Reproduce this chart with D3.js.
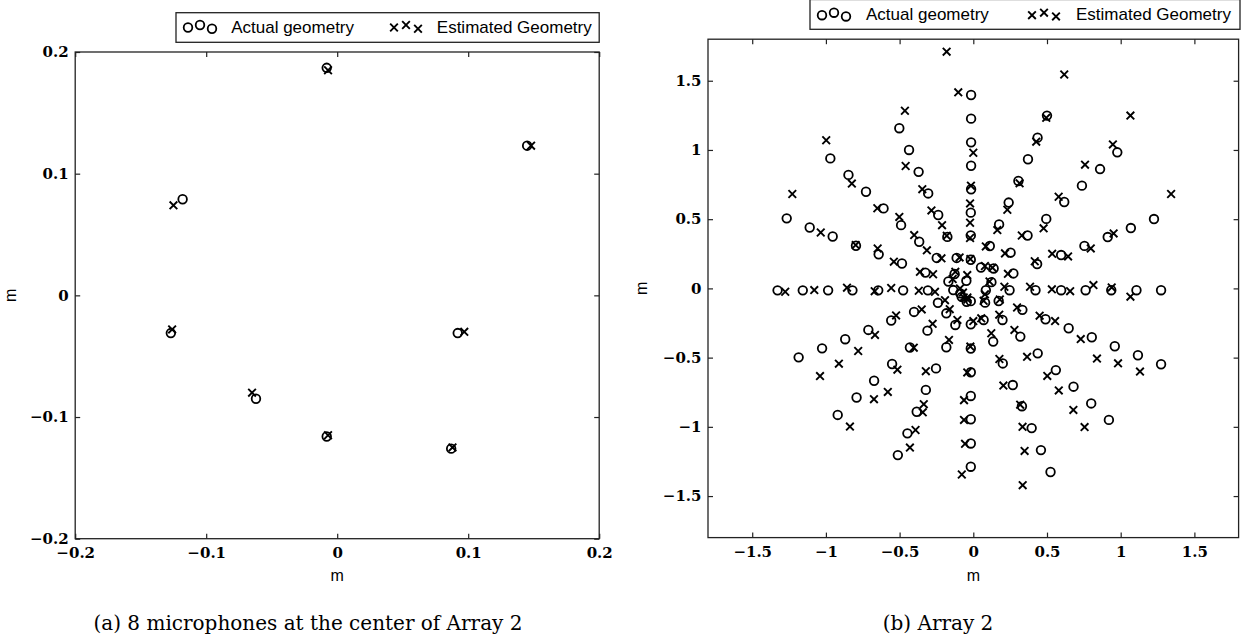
<!DOCTYPE html>
<html>
<head>
<meta charset="utf-8">
<script src="https://cdn.jsdelivr.net/npm/d3@7"></script>
<style>
body{margin:0;background:#fff;}
.tick-label{font-family:"DejaVu Serif",serif;font-weight:bold;font-size:15px;}
.axis-name{font-family:"Liberation Sans",Arial,sans-serif;font-size:16px;}
.legend-text{font-family:"Liberation Sans",Arial,sans-serif;font-size:17px;}
.caption{font-family:"DejaVu Serif",serif;font-size:20px;}
</style>
</head>
<body>
<svg id="figure" width="1245" height="640"></svg>
<script>
const FIG_W = 1245;
const FIG_H = 640;
const MARK_R = 4.3;
const CROSS_SIZE = 40;

// (a) the 8 microphones at the centre of the array
const centerTicks = [-0.2, -0.1, 0, 0.1, 0.2];
const centerActual = [[-0.008,0.187],[0.145,0.123],[-0.118,0.079],[-0.127,-0.031],[0.092,-0.031],[-0.062,-0.085],[-0.008,-0.116],[0.087,-0.126]];
const centerEstimated = [[-0.007,0.185],[0.148,0.123],[-0.125,0.074],[-0.126,-0.028],[0.097,-0.030],[-0.065,-0.080],[-0.007,-0.115],[0.088,-0.125]];

// (b) whole of Array 2, one line per arm (8 mics each)
const array2Ticks = [-1.5, -1, -0.5, 0, 0.5, 1, 1.5];
const array2Actual = [
  [-0.015,1.397],[-0.015,1.226],[-0.015,1.055],[-0.015,0.886],[-0.015,0.716],[-0.017,0.547],[-0.017,0.383],[-0.017,0.207],
  [-0.502,1.157],[-0.436,1.0],[-0.371,0.842],[-0.306,0.686],[-0.238,0.530],[-0.176,0.372],[-0.113,0.220],[-0.047,0.055],
  [-0.970,0.939],[-0.847,0.820],[-0.728,0.698],[-0.609,0.578],[-0.490,0.457],[-0.367,0.337],[-0.248,0.220],[-0.127,0.104],
  [-1.266,0.506],[-1.110,0.440],[-0.954,0.375],[-0.796,0.308],[-0.642,0.246],[-0.484,0.180],[-0.325,0.114],[-0.169,0.050],
  [-1.328,-0.014],[-1.157,-0.014],[-0.985,-0.014],[-0.820,-0.014],[-0.645,-0.014],[-0.476,-0.014],[-0.308,-0.014],[-0.136,-0.012],
  [-1.185,-0.498],[-1.026,-0.433],[-0.869,-0.367],[-0.712,-0.300],[-0.557,-0.232],[-0.402,-0.170],[-0.240,-0.104],[-0.088,-0.036],
  [-0.920,-0.914],[-0.792,-0.788],[-0.673,-0.667],[-0.551,-0.546],[-0.430,-0.427],[-0.311,-0.305],[-0.183,-0.180],[-0.079,-0.061],
  [-0.512,-1.204],[-0.447,-1.047],[-0.384,-0.891],[-0.322,-0.733],[-0.253,-0.578],[-0.183,-0.425],[-0.122,-0.264],[-0.045,-0.097],
  [-0.017,-0.092],[-0.017,-0.259],[-0.017,-0.434],[-0.017,-0.606],[-0.017,-0.777],[-0.017,-0.945],[-0.017,-1.120],[-0.017,-1.288],
  [0.524,-1.326],[0.459,-1.168],[0.396,-1.009],[0.330,-0.851],[0.268,-0.698],[0.200,-0.542],[0.135,-0.384],[0.070,-0.228],
  [0.920,-0.950],[0.800,-0.831],[0.680,-0.710],[0.560,-0.590],[0.437,-0.469],[0.319,-0.348],[0.198,-0.228],[0.080,-0.103],
  [1.274,-0.548],[1.117,-0.483],[0.960,-0.418],[0.804,-0.353],[0.647,-0.288],[0.490,-0.223],[0.333,-0.155],[0.172,-0.091],
  [1.274,-0.013],[1.107,-0.013],[0.936,-0.013],[0.762,-0.013],[0.596,-0.013],[0.422,-0.013],[0.246,-0.013],[0.085,-0.013],
  [1.226,0.501],[1.069,0.436],[0.912,0.371],[0.754,0.307],[0.596,0.241],[0.433,0.176],[0.272,0.108],[0.123,0.045],
  [0.977,0.983],[0.860,0.862],[0.737,0.742],[0.617,0.624],[0.495,0.502],[0.368,0.382],[0.253,0.258],[0.138,0.144],
  [0.500,1.248],[0.436,1.089],[0.371,0.933],[0.306,0.776],[0.240,0.620],[0.175,0.462],[0.112,0.306],[0.052,0.151]
];
const array2Estimated = [
  [-0.181,1.710],[-0.102,1.416],[0.000,0.980],[-0.016,0.742],[-0.022,0.614],[-0.022,0.474],[-0.022,0.364],[-0.020,0.212],
  [-0.464,1.283],[-0.459,0.884],[-0.346,0.717],[-0.284,0.563],[-0.212,0.457],[-0.180,0.380],[-0.093,0.224],[-0.041,0.096],
  [-0.998,1.070],[-0.824,0.757],[-0.651,0.579],[-0.502,0.516],[-0.401,0.385],[-0.315,0.275],[-0.216,0.217],[-0.122,0.120],
  [-1.228,0.682],[-1.035,0.404],[-0.798,0.313],[-0.649,0.288],[-0.539,0.193],[-0.362,0.120],[-0.273,0.102],[-0.140,0.068],
  [-1.276,-0.024],[-1.079,-0.012],[-0.857,0.005],[-0.669,-0.020],[-0.557,0.003],[-0.370,-0.017],[-0.260,-0.025],[-0.090,0.000],
  [-1.040,-0.633],[-0.912,-0.544],[-0.781,-0.452],[-0.667,-0.336],[-0.524,-0.195],[-0.350,-0.152],[-0.192,-0.085],[-0.070,-0.030],
  [-0.837,-0.998],[-0.674,-0.800],[-0.580,-0.748],[-0.515,-0.587],[-0.404,-0.428],[-0.276,-0.256],[-0.160,-0.150],[-0.065,-0.065],
  [-0.430,-1.150],[-0.392,-1.023],[-0.343,-0.895],[-0.336,-0.836],[-0.322,-0.598],[-0.165,-0.372],[-0.108,-0.228],[-0.040,-0.080],
  [-0.040,-0.065],[0.000,-0.236],[-0.020,-0.420],[-0.041,-0.607],[-0.063,-0.807],[-0.063,-0.950],[-0.056,-1.123],[-0.078,-1.344],
  [0.335,-1.421],[0.348,-1.174],[0.334,-1.000],[0.318,-0.840],[0.204,-0.702],[0.177,-0.510],[0.122,-0.324],[0.054,-0.216],
  [0.755,-1.002],[0.679,-0.878],[0.580,-0.737],[0.502,-0.632],[0.365,-0.494],[0.279,-0.300],[0.176,-0.190],[0.070,-0.090],
  [1.131,-0.601],[0.982,-0.541],[0.839,-0.507],[0.729,-0.366],[0.555,-0.236],[0.450,-0.197],[0.297,-0.138],[0.180,-0.080],
  [1.066,-0.060],[0.939,0.007],[0.815,0.024],[0.657,-0.020],[0.533,-0.007],[0.385,0.012],[0.211,0.012],[0.079,-0.043],
  [1.342,0.682],[0.952,0.397],[0.797,0.289],[0.643,0.231],[0.535,0.250],[0.417,0.196],[0.235,0.105],[0.110,0.050],
  [1.066,1.248],[0.947,1.040],[0.758,0.894],[0.579,0.662],[0.477,0.434],[0.329,0.382],[0.215,0.253],[0.130,0.150],
  [0.617,1.545],[0.495,1.232],[0.427,1.060],[0.314,0.759],[0.231,0.568],[0.163,0.421],[0.085,0.303],[0.079,0.161]
];

const legendLabels = ["Actual geometry", "Estimated Geometry"];
const legendOffsets = [0.375, 0.5, 0.3125];   // the 3 staggered legend markers
const captions = ["(a) 8 microphones at the center of Array 2", "(b) Array 2"];
const axisName = "m";

const panels = [
  {actual: centerActual, est: centerEstimated, ticks: centerTicks, domain: [-0.2, 0.2],
   left: 75.2, right: 599.2, top: 52, bottom: 538.7,
   legend: {x: 176, y: 12.7, w: 423.2, h: 29.6, mark: 188, text1: 231.2, cross: 394, text2: 436.8, cy: 25, base: 32.7},
   ylabelX: 16, caption: captions[0], captionX: 308},
  {actual: array2Actual, est: array2Estimated, ticks: array2Ticks, domain: [-1.8, 1.8],
   left: 708, right: 1238.6, top: 39.2, bottom: 537.6,
   legend: {x: 810, y: -0.5, w: 430, h: 29.8, mark: 822, text1: 866, cross: 1032, text2: 1076, cy: 12.7, base: 20},
   ylabelX: 647, caption: captions[1], captionX: 938}
];

const svg = d3.select("#figure");
svg.append("rect").attr("width", FIG_W).attr("height", FIG_H).attr("fill", "#fff");

const fmt = d3.format("~g");
const crossPath = d3.symbol(d3.symbolTimes, CROSS_SIZE)();

function drawPanel(p){
    let x = d3.scaleLinear().domain(p.domain).range([p.left, p.right]);
    let y = d3.scaleLinear().domain(p.domain).range([p.bottom, p.top]);
    let g = svg.append("g");

    //ticks pointing inwards on all four sides
    let bottomAxis = g.append("g").attr("transform", "translate(0," + p.bottom + ")")
        .call(d3.axisBottom(x).tickValues(p.ticks).tickFormat(fmt).tickSizeInner(-5).tickSizeOuter(0).tickPadding(9));
    let leftAxis = g.append("g").attr("transform", "translate(" + p.left + ",0)")
        .call(d3.axisLeft(y).tickValues(p.ticks).tickFormat(fmt).tickSizeInner(-5).tickSizeOuter(0).tickPadding(6.5));
    g.append("g").attr("transform", "translate(0," + p.top + ")")
        .call(d3.axisTop(x).tickValues(p.ticks).tickFormat("").tickSizeInner(-5).tickSizeOuter(0));
    g.append("g").attr("transform", "translate(" + p.right + ",0)")
        .call(d3.axisRight(y).tickValues(p.ticks).tickFormat("").tickSizeInner(-5).tickSizeOuter(0));
    g.selectAll(".domain").remove();
    g.selectAll(".tick line").attr("stroke", "#222").attr("stroke-width", 1.2);
    g.selectAll(".tick text").attr("class", "tick-label").attr("fill", "#000");
    bottomAxis.attr("font-size", null).attr("font-family", null);
    leftAxis.attr("font-size", null).attr("font-family", null);

    g.append("rect")
        .attr("x", p.left).attr("y", p.top)
        .attr("width", p.right - p.left).attr("height", p.bottom - p.top)
        .attr("fill", "none").attr("stroke", "#222").attr("stroke-width", 1.3);

    //actual positions as open circles
    g.append("g").selectAll("circle")
        .data(p.actual)
        .join("circle")
        .attr("cx", d => x(d[0]))
        .attr("cy", d => y(d[1]))
        .attr("r", MARK_R)
        .attr("fill", "none")
        .attr("stroke", "#000")
        .attr("stroke-width", 1.8);

    //estimated positions as crosses
    g.append("g").selectAll("path")
        .data(p.est)
        .join("path")
        .attr("d", crossPath)
        .attr("transform", d => "translate(" + x(d[0]) + "," + y(d[1]) + ")")
        .attr("fill", "none")
        .attr("stroke", "#000")
        .attr("stroke-width", 1.9);

    //axis names
    g.append("text").attr("class", "axis-name")
        .attr("x", x(0)).attr("y", 581).attr("text-anchor", "middle").text(axisName);
    g.append("text").attr("class", "axis-name")
        .attr("transform", "translate(" + p.ylabelX + "," + y(0) + ") rotate(-90)")
        .attr("text-anchor", "middle").text(axisName);

    //legend box with three staggered markers per entry
    let L = p.legend;
    let lg = g.append("g");
    lg.append("rect").attr("x", L.x).attr("y", L.y).attr("width", L.w).attr("height", L.h)
        .attr("fill", "#fff").attr("stroke", "#222").attr("stroke-width", 1.3);
    lg.selectAll("circle").data(legendOffsets).join("circle")
        .attr("cx", (d, i) => L.mark + i * 12)
        .attr("cy", d => L.cy + (0.5 - d) * 20)
        .attr("r", MARK_R).attr("fill", "none").attr("stroke", "#000").attr("stroke-width", 1.8);
    lg.selectAll("path").data(legendOffsets).join("path")
        .attr("d", crossPath)
        .attr("transform", (d, i) => "translate(" + (L.cross + i * 12) + "," + (L.cy + (0.5 - d) * 20) + ")")
        .attr("fill", "none").attr("stroke", "#000").attr("stroke-width", 1.9);
    lg.append("text").attr("class", "legend-text").attr("x", L.text1).attr("y", L.base).text(legendLabels[0]);
    lg.append("text").attr("class", "legend-text").attr("x", L.text2).attr("y", L.base).text(legendLabels[1]);

    svg.append("text").attr("class", "caption")
        .attr("x", p.captionX).attr("y", 630).attr("text-anchor", "middle").text(p.caption);
}

panels.forEach(drawPanel);
</script>
</body>
</html>
